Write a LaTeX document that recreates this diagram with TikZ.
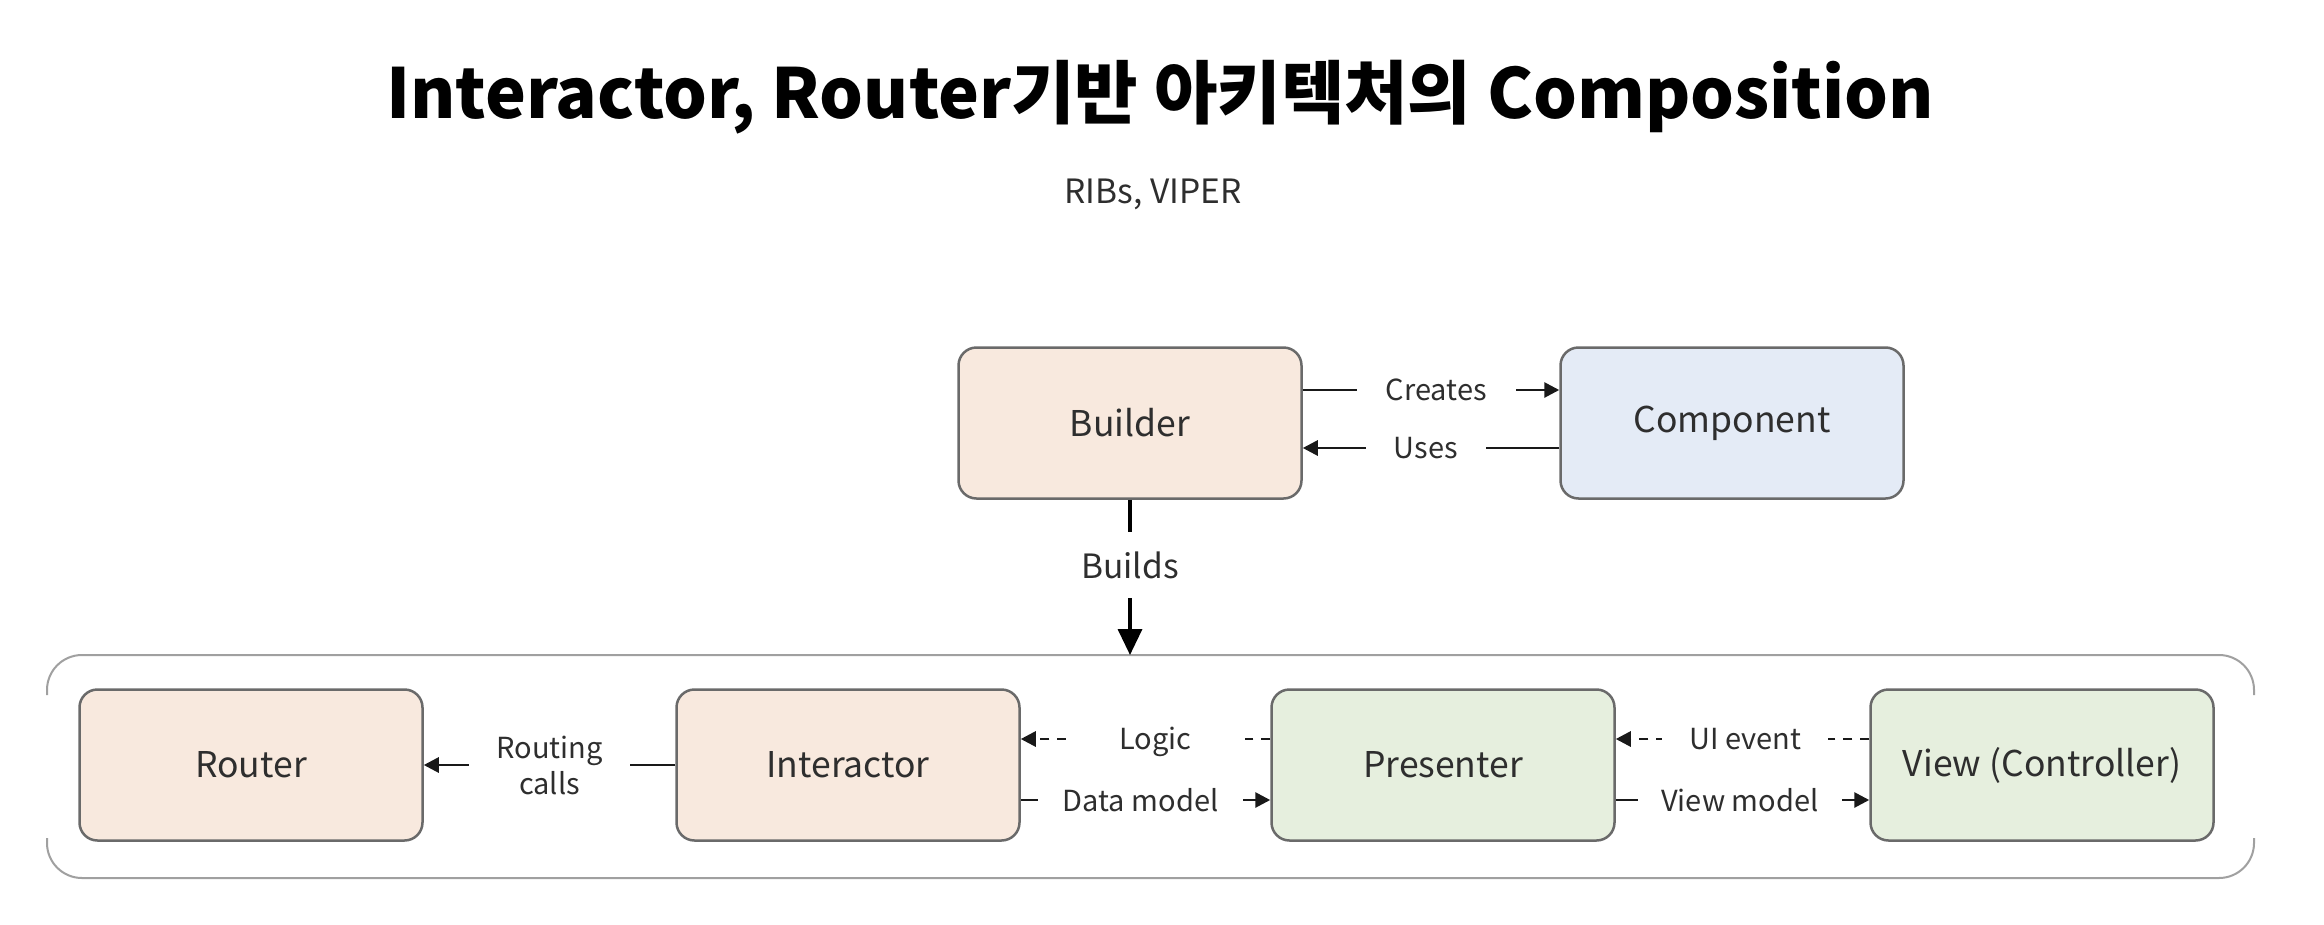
\documentclass[tikz,border=0pt]{standalone}
\usepackage{fontspec}
\setmainfont{Noto Sans CJK KR}
\usetikzlibrary{arrows.meta,calc}
\definecolor{peach}{HTML}{F8E9DE}
\definecolor{lblue}{HTML}{E4EBF6}
\definecolor{lgreen}{HTML}{E6EFDE}
\definecolor{txt}{HTML}{2E2E2E}
\definecolor{bord}{HTML}{6A6A6A}
\definecolor{cont}{HTML}{A0A0A0}
\tikzset{
  box/.style={draw=bord, line width=2.5pt, rounded corners=18pt, minimum width=343pt,
    minimum height=151pt, inner sep=0pt, text=txt, font=\fontsize{35.5}{43}\selectfont},
  conn/.style={line width=2.8pt, draw=black!90},
  tip/.style={-{Triangle[length=15pt,width=15pt]}},
  dsh/.style={dash pattern=on 9pt off 8pt},
  lbl/.style={fill=white, text=txt, font=\fontsize{29}{36}\selectfont, inner ysep=2pt, align=center},
}
\begin{document}
\begin{tikzpicture}[x=1pt,y=-1pt]
\useasboundingbox (0,0) rectangle (2324,924);
\fill[white] (0,0) rectangle (2324,924);
% title
\node[anchor=base, font=\fontsize{69}{80}\selectfont\bfseries, text=black] (title) at (1160,118)
  {Interactor, Router기반 아키텍처의 Composition};
\node[anchor=base, font=\fontsize{33.5}{40}\selectfont, text=txt] (sub) at (1153,203) {RIBs, VIPER};
% boxes
\node[box, fill=peach] (b) at (1130,423) {Builder};
\node[box, fill=lblue] (c) at (1732,423) {Component};
\node[box, fill=peach] (r) at (251,765) {Router};
\node[box, fill=peach] (i) at (848,765) {Interactor};
\node[box, fill=lgreen] (p) at (1443,765) {Presenter};
\node[box, fill=lgreen] (v) at (2042,765) {View (Controller)};
% container
\draw[cont, line width=2pt, rounded corners=35pt] (47,695) -- (47,655) -- (2254,655) -- (2254,695);
\draw[cont, line width=2pt, rounded corners=35pt] (47,838) -- (47,878) -- (2254,878) -- (2254,838);
\coordinate (ctop) at (1130,655);
% builder <-> component
\draw[conn, tip] ($(b.east)+(0,-33)$) -- node[lbl, pos=0.52, inner xsep=29pt] {Creates} ($(c.west)+(0,-33)$);
\draw[conn, tip] ($(c.west)+(0,25)$) -- node[lbl, pos=0.52, inner xsep=28pt] {Uses} ($(b.east)+(0,25)$);
% builds
\draw[line width=3.5pt, draw=black, -{Triangle[length=26pt,width=24pt]}] (b.south) -- node[fill=white, text=txt, font=\fontsize{33.5}{40}\selectfont, pos=0.42, minimum height=66pt, inner xsep=4pt] {Builds} (ctop);
% lower row
\draw[conn, tip] (i.west) -- node[lbl, pos=0.5, inner xsep=27pt] {Routing\\calls} (r.east);
\draw[conn, tip, dsh] ($(p.west)+(0,-26)$) -- node[lbl, pos=0.46, inner xsep=53pt, yshift=-3pt] {Logic} ($(i.east)+(0,-26)$);
\draw[conn, tip] ($(i.east)+(0,35)$) -- node[lbl, pos=0.48, inner xsep=25pt] {Data model} ($(p.west)+(0,35)$);
\draw[conn, tip, dsh] ($(v.west)+(0,-26)$) -- node[lbl, pos=0.49, inner xsep=27pt] {UI event} ($(p.east)+(0,-26)$);
\draw[conn, tip] ($(p.east)+(0,35)$) -- node[lbl, pos=0.49, inner xsep=23pt] {View model} ($(v.west)+(0,35)$);
\end{tikzpicture}
\end{document}
